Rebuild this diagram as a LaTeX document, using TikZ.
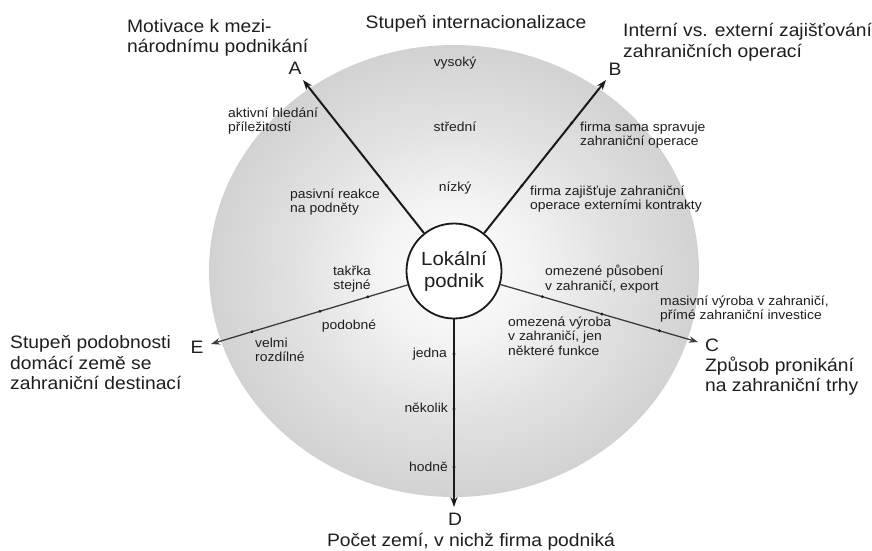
\documentclass[tikz,border=0pt]{standalone}
\usepackage{fontspec}
\setmainfont{Liberation Sans}[FakeStretch=1.07]
\usepackage{tikz}
\usetikzlibrary{
  arrows.meta,
  positioning,
  calc
}
\definecolor{FigText}{HTML}{1E1E1E}
\definecolor{FigLine}{HTML}{1A1A1A}
\definecolor{FigThin}{HTML}{3C3C3C}
\definecolor{FigHaloLight}{HTML}{F3F3F3}
\definecolor{FigHaloMid}{HTML}{E2E2E2}
\definecolor{FigHaloRim}{HTML}{D2D2D2}
\pgfdeclareradialshading{FigHalo}{\pgfpoint{0bp}{0bp}}{
  color(0bp)=(white); color(8bp)=(FigHaloLight); color(16bp)=(FigHaloMid);
  color(25bp)=(FigHaloRim); color(50bp)=(FigHaloRim)}

\begin{document}
\begin{tikzpicture}[
x=1pt, y=-1pt,
font=\fontsize{13}{14.5}\selectfont,
every node/.style={text=FigText},
big/.style={font=\fontsize{18}{20.5}\selectfont, inner sep=0pt},
lbl/.style={inner sep=0pt, align=left},
letter/.style={font=\fontsize{18}{20}\selectfont, inner sep=0pt},
axis/.style={-{Stealth[length=10pt, width=7pt]}, line width=2pt, draw=FigLine},
thinaxis/.style={-{Stealth[length=9pt, width=6.5pt]}, line width=1.3pt, draw=FigThin},
tick/.style={circle, fill=FigLine, inner sep=0pt, minimum size=3.2pt},
hub/.style={
circle,
draw=FigLine,
line width=1.8pt,
fill=white,
minimum size=95pt,
inner sep=0pt,
align=center,
font=\fontsize{19}{22}\selectfont
}
]
\useasboundingbox (0,0) rectangle (872,550);

% Shaded disc
\coordinate (ctr) at (454,271);
\path[shading=FigHalo] (ctr) ellipse [x radius=245, y radius=226];

% Centre
\node[hub] (lokal) at (ctr) {Lokální\\podnik};

% Axis ends
\coordinate (tipA) at (303,80);
\coordinate (tipB) at (606,80);
\coordinate (tipC) at (698,342);
\coordinate (tipD) at (454,507);
\coordinate (tipE) at (211,344);

% Axes
\draw[axis] (lokal) -- (tipA);
\draw[axis] (lokal) -- (tipB);
\draw[thinaxis] (lokal) -- (tipC);
\draw[axis] (lokal) -- (tipD);
\draw[thinaxis] (lokal) -- (tipE);

% Ticks on the axes
\node[tick] (tA1) at ($(ctr)!109pt!(tipA)$) {};
\node[tick] (tB1) at ($(ctr)!109pt!(tipB)$) {};
\node[tick] (tB2) at ($(ctr)!189pt!(tipB)$) {};
\node[tick] (tC1) at ($(ctr)!92pt!(tipC)$) {};
\node[tick] (tC2) at ($(ctr)!154pt!(tipC)$) {};
\node[tick] (tC3) at ($(ctr)!214pt!(tipC)$) {};
\node[tick] (tD1) at ($(ctr)!83pt!(tipD)$) {};
\node[tick] (tD2) at ($(ctr)!138pt!(tipD)$) {};
\node[tick] (tD3) at ($(ctr)!196pt!(tipD)$) {};
\node[tick] (tE1) at ($(ctr)!90pt!(tipE)$) {};
\node[tick] (tE2) at ($(ctr)!140pt!(tipE)$) {};
\node[tick] (tE3) at ($(ctr)!211pt!(tipE)$) {};

% Axis letters
\node[letter] (labA) at (295,68) {A};
\node[letter] (labB) at (615,69) {B};
\node[letter] (labC) at (712,345) {C};
\node[letter] (labD) at (455,519) {D};
\node[letter] (labE) at (197,347) {E};

% Axis titles
\node[big, anchor=base] (title) at (476,28) {Stupeň internacionalizace};
\node[big, anchor=west, align=left] (motA) at (127,38) {Motivace k mezi-\\národnímu podnikání};
\node[big, anchor=west, align=left] (motB) at (623,42) {Interní vs. externí zajišťování\\zahraničních operací};
\node[big, anchor=west, align=left] (motC) at (705,376) {Způsob pronikání\\na zahraniční trhy};
\node[big, anchor=base] (motD) at (471,546) {Počet zemí, v nichž firma podniká};
\node[big, anchor=west, align=left] (motE) at (10,363) {Stupeň podobnosti\\domácí země se\\zahraniční destinací};

% Levels
\node[lbl, anchor=base] (vys) at (455,66) {vysoký};
\node[lbl, anchor=base] (stred) at (455,131) {střední};
\node[lbl, anchor=base] (niz) at (455,191) {nízký};

\node[lbl, anchor=west] (aktiv) at (228,121) {aktivní hledání\\příležitostí};
\node[lbl, anchor=west] (pasiv) at (290,202) {pasivní reakce\\na podněty};
\node[lbl, anchor=west] (sama) at (580,135) {firma sama spravuje\\zahraniční operace};
\node[lbl, anchor=west] (ext) at (530,199) {firma zajišťuje zahraniční\\operace externími kontrakty};
\node[lbl, align=center] (stejne) at (352,279) {takřka\\stejné};
\node[lbl, anchor=base] (podob) at (349,329) {podobné};
\node[lbl, anchor=west] (rozdil) at (255,350) {velmi\\rozdílné};
\node[lbl, anchor=west] (export) at (545,279) {omezené působení\\v zahraničí, export};
\node[lbl, anchor=west] (masiv) at (660,309) {masivní výroba v zahraničí,\\přímé zahraniční investice};
\node[lbl, anchor=west] (omez) at (508,336) {omezená výroba\\v zahraničí, jen\\některé funkce};
\node[lbl, anchor=base east] (jedna) at (447,357) {jedna};
\node[lbl, anchor=base east] (nekol) at (448,412) {několik};
\node[lbl, anchor=base east] (hodne) at (448,471) {hodně};

\end{tikzpicture}
\end{document}
